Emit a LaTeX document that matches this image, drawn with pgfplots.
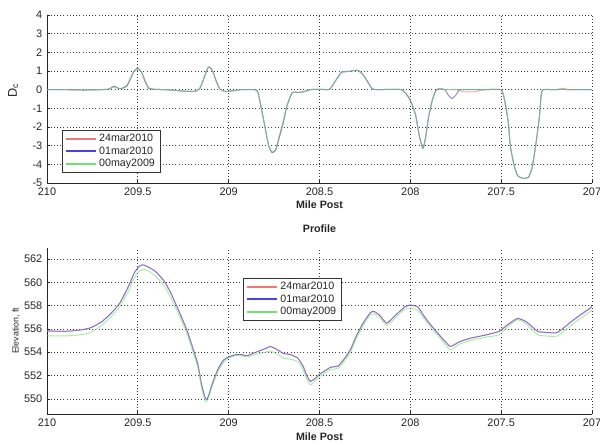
\documentclass[border=0pt]{standalone}
\usepackage{fontspec}
\setmainfont{Liberation Sans}
\usepackage{pgfplots}
\usepackage{pgfplotstable}
\pgfplotsset{compat=1.18}
\definecolor{cR}{RGB}{240,120,120}
\definecolor{cB}{RGB}{70,70,220}
\definecolor{cG}{RGB}{110,225,110}

\pgfplotstableread{
x r b g
210 0 0 0
209.9 0 0 0
209.8 -0.02 -0.02 -0.02
209.7 0 0 0
209.66 0.03 0.03 0.03
209.63 0.18 0.18 0.15
209.61 0.08 0.08 0.08
209.59 0.06 0.06 0.06
209.56 0.2 0.2 0.25
209.54 0.6 0.6 0.65
209.52 1.0 1.0 1.0
209.50 1.15 1.15 1.12
209.48 0.95 0.95 0.95
209.46 0.45 0.45 0.5
209.44 0.08 0.08 0.1
209.41 0.02 0.02 0.02
209.35 0 0 0
209.28 -0.05 -0.05 -0.05
209.21 -0.1 -0.1 -0.1
209.18 -0.07 -0.07 -0.07
209.16 0.05 0.05 0.05
209.14 0.5 0.5 0.5
209.12 1.05 1.05 1.05
209.11 1.22 1.22 1.2
209.09 1.05 1.05 1.05
209.07 0.5 0.5 0.5
209.05 0.05 0.05 0.05
209.02 -0.1 -0.1 -0.1
208.98 -0.06 -0.06 -0.06
208.93 0 0 0
208.86 0 0 0
208.84 -0.1 -0.1 -0.1
208.82 -1.0 -1.0 -1.0
208.80 -2.0 -2.0 -2.0
208.78 -3.0 -3.0 -3.0
208.76 -3.38 -3.38 -3.35
208.74 -3.2 -3.2 -3.15
208.72 -2.5 -2.5 -2.4
208.70 -1.8 -1.8 -1.7
208.68 -0.9 -0.9 -0.85
208.65 -0.15 -0.15 -0.15
208.62 -0.15 -0.15 -0.15
208.59 -0.12 -0.12 -0.12
208.55 0 0 0
208.5 0.02 0.02 0.02
208.46 0 0 0
208.44 0.05 0.05 0.05
208.41 0.5 0.5 0.5
208.38 0.92 0.92 0.92
208.34 0.98 0.98 0.98
208.29 1.03 1.03 1.03
208.26 0.8 0.8 0.8
208.24 0.5 0.5 0.5
208.21 0.05 0.05 0.05
208.18 0 0 0
208.10 0.02 0.02 0.02
208.05 0 0 0
208.03 -0.15 -0.15 -0.15
208.01 -0.4 -0.4 -0.4
207.99 -0.8 -0.8 -0.8
207.97 -1.4 -1.4 -1.4
207.95 -2.5 -2.5 -2.5
207.93 -3.15 -3.15 -3.15
207.915 -2.5 -2.5 -2.5
207.90 -1.5 -1.5 -1.5
207.88 -0.6 -0.6 -0.6
207.86 -0.05 -0.05 -0.05
207.84 0.05 0.05 0.05
207.81 0 0 0
207.79 0 -0.3 0
207.77 0 -0.48 0
207.75 0 -0.3 0
207.73 -0.05 0 0
207.70 -0.12 0 0
207.65 -0.12 0 0
207.62 -0.05 0 0
207.58 0 0 0
207.5 0 0 0
207.48 -0.6 -0.6 -0.6
207.46 -1.8 -1.8 -1.8
207.45 -3.0 -3.0 -3.0
207.43 -4.0 -4.0 -4.0
207.41 -4.6 -4.6 -4.6
207.38 -4.75 -4.75 -4.75
207.35 -4.7 -4.7 -4.7
207.33 -4.2 -4.2 -4.2
207.31 -3.0 -3.0 -3.0
207.29 -1.5 -1.5 -1.5
207.28 -0.3 -0.3 -0.3
207.27 0 0 0
207.2 0 0 0
207.16 0.08 0.02 0.02
207.13 0 0 0
207.0 0 0 0
}\dctable

\pgfplotstableread{
x r b g
210 555.8 555.85 555.4
209.9 555.8 555.8 555.4
209.82 555.9 555.9 555.5
209.76 556.1 556.1 555.7
209.7 556.6 556.6 556.3
209.65 557.3 557.3 557.0
209.6 558.2 558.2 557.9
209.55 559.7 559.7 559.3
209.52 560.8 560.8 560.4
209.49 561.4 561.4 561.0
209.47 561.5 561.5 561.1
209.44 561.3 561.3 561.0
209.4 560.9 560.9 560.5
209.35 560.0 560.0 559.6
209.31 558.8 558.8 558.4
209.27 557.4 557.4 557.1
209.23 555.9 555.9 555.6
209.2 554.5 554.5 554.2
209.17 553.0 553.0 552.7
209.15 551.3 551.3 551.0
209.13 550.1 550.1 549.8
209.12 549.95 549.95 549.8
209.11 550.3 550.3 550.1
209.09 551.3 551.3 551.1
209.06 552.5 552.5 552.3
209.03 553.3 553.3 553.1
209.0 553.6 553.6 553.5
208.96 553.8 553.8 553.7
208.93 553.8 553.8 553.7
208.9 553.7 553.7 553.6
208.85 554.0 554.0 553.8
208.8 554.3 554.3 554.0
208.77 554.5 554.5 554.1
208.73 554.2 554.2 553.8
208.7 553.9 553.9 553.5
208.66 553.8 553.8 553.4
208.62 553.5 553.5 553.2
208.59 552.8 552.8 552.5
208.57 552.0 552.0 551.7
208.55 551.5 551.5 551.2
208.52 551.8 551.8 551.6
208.5 552.1 552.1 551.9
208.44 552.7 552.7 552.5
208.4 552.8 552.8 552.6
208.37 553.3 553.3 553.1
208.33 554.2 554.2 554.0
208.3 555.3 555.3 555.1
208.26 556.5 556.5 556.3
208.22 557.4 557.4 557.2
208.2 557.5 557.5 557.3
208.17 557.2 557.2 557.0
208.13 556.5 556.5 556.3
208.08 557.2 557.2 557.0
208.03 557.9 557.9 557.7
208.0 558.05 558.05 557.8
207.96 557.9 557.9 557.6
207.92 557.0 557.0 556.8
207.88 556.2 556.2 556.0
207.83 555.3 555.3 555.1
207.78 554.5 554.5 554.2
207.73 554.9 554.9 554.7
207.67 555.2 555.2 555.0
207.58 555.5 555.5 555.3
207.51 555.8 555.8 555.5
207.47 556.3 556.3 556.1
207.41 556.9 556.9 556.8
207.36 556.6 556.6 556.4
207.3 555.8 555.8 555.5
207.25 555.7 555.7 555.4
207.19 555.7 555.7 555.4
207.1 556.8 556.8 556.5
207.0 557.9 557.9 557.6
}\eltable

\pgfplotsset{
  mlstyle/.style={
    scale only axis,
    width=408.75pt,
    x dir=reverse,
    xmin=207, xmax=210,
    xtick={207,207.5,...,210},
    enlargelimits=false,
    axis x line=bottom, axis y line=left,
    axis line style={-, black!85, line width=0.6pt},
    tick align=inside,
    major tick length=2pt,
    tick style={black!85, line width=0.5pt},
    grid=major,
    major grid style={black!75, dotted, line width=0.5pt},
    /pgf/number format/assume math mode=true,
    ticklabel style={font=\fontsize{8.2}{9}\selectfont, text=black!85},
    xlabel={Mile Post},
    xlabel style={font=\bfseries\fontsize{8}{9}\selectfont, text=black!85},
    legend cell align=left,
    legend style={font=\fontsize{8}{9}\selectfont, draw=black!80, line width=0.8pt,
      inner xsep=2pt, inner ysep=0.5pt, row sep=-1.5pt, text=black!85},
    legend image code/.code={\draw[#1, opacity=1, line width=1.5pt] (0pt,0pt) -- (22pt,0pt);},
    every axis plot/.append style={line width=0.75pt, opacity=0.6, line join=round, smooth, tension=0.3},
  }
}

\begin{document}
\begin{tikzpicture}
\path[use as bounding box] (0,0) rectangle (450pt,333.75pt);

\begin{axis}[mlstyle,
  at={(35.25pt,322.5pt)}, anchor=north west,
  height=126pt,
  ymin=-5, ymax=4, ytick={-5,...,4},
  xlabel style={at={(axis description cs:0.5,-0.131)}, anchor=center},
  ylabel={D\textsubscript{c}},
  ylabel style={at={(axis description cs:-0.062,0.55)}, anchor=center, rotate=0, font=\fontsize{9.5}{10}\selectfont, text=black!85},
  legend style={at={(rel axis cs:0.0275,0.315)}, anchor=north west},
]
\addplot[color=cR] table[x=x, y=r] {\dctable};
\addplot[color=cB] table[x=x, y=b] {\dctable};
\addplot[color=cG] table[x=x, y=g] {\dctable};
\legend{24mar2010,01mar2010,00may2009}
\end{axis}

\begin{axis}[mlstyle,
  at={(35.25pt,147.75pt)}, anchor=north west,
  height=124.5pt,
  ymin=548.7, ymax=562.95, ytick={550,552,...,562},
  title={Profile},
  title style={at={(axis description cs:0.5,1)}, anchor=center, yshift=8.5pt, font=\bfseries\fontsize{8}{9}\selectfont, text=black!85},
  xlabel style={at={(axis description cs:0.5,-0.138)}, anchor=center},
  ylabel={Elevation, ft},
  ylabel style={at={(axis description cs:-0.057,0.5)}, anchor=center, font=\fontsize{6.6}{8}\selectfont, text=black!85},
  legend style={at={(rel axis cs:0.36,0.819)}, anchor=north west},
]
\addplot[color=cR] table[x=x, y=r] {\eltable};
\addplot[color=cB] table[x=x, y=b] {\eltable};
\addplot[color=cG] table[x=x, y=g] {\eltable};
\legend{24mar2010,01mar2010,00may2009}
\end{axis}
\end{tikzpicture}
\end{document}
